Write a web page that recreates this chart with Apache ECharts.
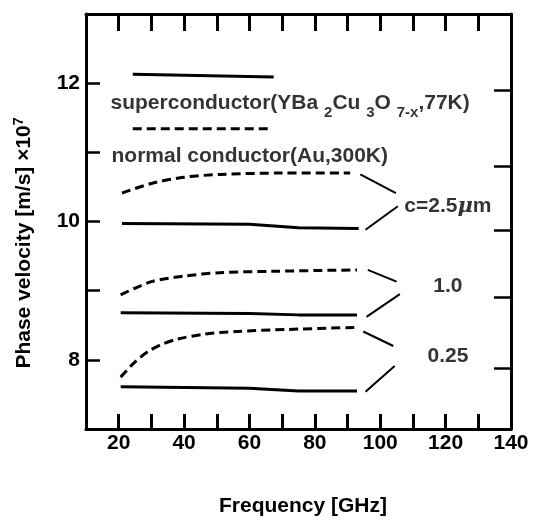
<!DOCTYPE html>
<html>
<head>
<meta charset="utf-8">
<script src="https://cdn.jsdelivr.net/npm/echarts@6/dist/echarts.min.js"></script>
<style>html,body{margin:0;padding:0;background:#fff}#c{width:534px;height:522px}</style>
</head>
<body>
<div id="c"></div>
<script>
// ---- data ----
const xTickLabels = [20, 40, 60, 80, 100, 120, 140];
const yTickLabels = [8, 10, 12];
const rightTicks = [7.88, 8.9, 9.88, 10.8, 11.9];

const sc25 = [[21, 9.97], [60, 9.96], [75, 9.91], [93.4, 9.90]];
const sc10 = [[20.6, 8.68], [60, 8.67], [75, 8.65], [92.9, 8.65]];
const sc025 = [[20.6, 7.61], [60, 7.59], [75, 7.55], [92.9, 7.55]];

const nc25 = [[21, 10.41], [30, 10.55], [40, 10.64], [51, 10.68], [70, 10.70], [90.8, 10.70]];
const nc10 = [[20.6, 8.94], [30, 9.13], [40, 9.21], [51, 9.26], [67, 9.28], [92.9, 9.30]];
const nc025 = [[20.6, 7.75], [25, 7.97], [29, 8.12], [33, 8.22], [38, 8.30], [46, 8.37], [56, 8.41], [72, 8.44], [92.9, 8.47]];

const legendSolid = [[24.3, 12.13], [67.4, 12.09]];
const legendDashed = [[24.3, 11.34], [65.9, 11.34]];
const legendText = ['superconductor(YBa {sub|2}Cu {sub|3}O {sub|7-x},77K)', 'normal conductor(Au,300K)'];
const legendAnchor = [[17.5, 11.70], [17.8, 10.94]];

const connectors = [
  [[93.9, 10.68], [104.8, 10.41]],
  [[95.5, 9.88], [105.4, 10.22]],
  [[96.2, 9.30], [105, 9.13]],
  [[95.8, 8.62], [106, 8.95]],
  [[94.8, 8.41], [104, 8.20]],
  [[95.5, 7.54], [104.4, 7.91]]
];
const noteText = ['c=2.5{mu|\u03bc}m', '1.0', '0.25'];
const noteAnchor = [[120.7, 10.22], [120.7, 9.06], [120.7, 8.05]];

// ---- chart ----
const INK = '#000';
const FONT = '"Liberation Sans", Arial, sans-serif';
const chart = echarts.init(document.getElementById('c'), null, {renderer: 'canvas'});

const lineBase = {type: 'line', showSymbol: false, symbol: 'none', silent: true, animation: false};
const series = [];
function solid(d, w) { series.push(Object.assign({}, lineBase, {data: d, lineStyle: {color: INK, width: w || 3}})); }
function dashed(d) { series.push(Object.assign({}, lineBase, {data: d, smooth: 0.3, lineStyle: {color: INK, width: 3, type: [9, 5]}})); }
solid(sc25); solid(sc10); solid(sc025);
dashed(nc25); dashed(nc10); dashed(nc025);
solid(legendSolid);
series.push(Object.assign({}, lineBase, {data: legendDashed, lineStyle: {color: INK, width: 3, type: [9, 5]}}));
connectors.forEach(c => solid(c, 2));

const richSub = {
  n: {fontSize: 21, fontWeight: 'bold', fontFamily: FONT, color: INK, lineHeight: 22, verticalAlign: 'top'},
  sub: {fontSize: 15, fontWeight: 'bold', fontFamily: FONT, color: INK, lineHeight: 15, padding: [12, 0, 0, 0], verticalAlign: 'top'},
  mu: {fontSize: 21, fontStyle: 'italic', fontFamily: '"DejaVu Serif", serif', color: INK}
};

series.push({
  type: 'scatter', symbolSize: 0, silent: true, animation: false,
  data: legendAnchor.map((p, i) => ({
    value: p,
    label: {show: true, position: 'right', distance: 0,
      formatter: legendText[i].replace(/^([^{]*)/, '{n|$1}').replace(/\}([^{}]+)(?=\{|$)/g, '}{n|$1}'),
      rich: richSub}
  }))
});
series.push({
  type: 'scatter', symbolSize: 0, silent: true, animation: false,
  data: noteAnchor.map((p, i) => ({
    value: p,
    label: {show: true, position: 'inside', formatter: noteText[i],
      fontSize: 21, fontWeight: 'bold', fontFamily: FONT, color: INK, rich: {mu: richSub.mu}}
  }))
});

const axisLine = {show: true, onZero: false, lineStyle: {color: INK, width: 3}};
chart.setOption({
  animation: false,
  backgroundColor: '#fff',
  grid: {left: 86, right: 23, top: 14, bottom: 92},
  xAxis: [
    {type: 'value', position: 'bottom', min: 10, max: 140, interval: 10,
      axisLine: axisLine, splitLine: {show: false},
      axisTick: {inside: true, length: 15, lineStyle: {color: INK, width: 3}},
      axisLabel: {margin: 4, fontSize: 21, fontWeight: 'bold', fontFamily: FONT, color: INK,
        formatter: v => xTickLabels.indexOf(v) >= 0 ? String(v) : ''},
      name: 'Frequency [GHz]', nameLocation: 'middle', nameGap: 67,
      nameTextStyle: {fontSize: 21, fontWeight: 'bold', fontFamily: FONT, color: INK, padding: [0, 0, 0, 9]}},
    {type: 'value', position: 'top', min: 10, max: 140, interval: 10,
      axisLine: axisLine, splitLine: {show: false},
      axisTick: {inside: true, length: 17, lineStyle: {color: INK, width: 3}},
      axisLabel: {show: false}}
  ],
  yAxis: [
    {type: 'value', position: 'left', min: 7, max: 13, interval: 1,
      axisLine: axisLine, splitLine: {show: false},
      axisTick: {inside: true, length: 14, lineStyle: {color: INK, width: 2.5}},
      axisLabel: {margin: 6, fontSize: 21, fontWeight: 'bold', fontFamily: FONT, color: INK,
        formatter: v => yTickLabels.indexOf(v) >= 0 ? String(v) : ''},
      name: 'Phase velocity [m/s] \u00d710{sup|7}', nameLocation: 'middle', nameGap: 50,
      nameTextStyle: {fontSize: 21, fontWeight: 'bold', fontFamily: FONT, color: INK, padding: [0, 43, 0, 0],
        rich: {sup: {fontSize: 14, fontWeight: 'bold', fontFamily: FONT, color: INK, padding: [0, 0, 10, 0]}}}},
    {type: 'value', position: 'right', min: 7, max: 13,
      axisLine: axisLine, splitLine: {show: false},
      axisTick: {inside: true, length: 17, customValues: rightTicks, lineStyle: {color: INK, width: 2.5}},
      axisLabel: {show: false}}
  ],
  series: series
});
</script>
</body>
</html>
